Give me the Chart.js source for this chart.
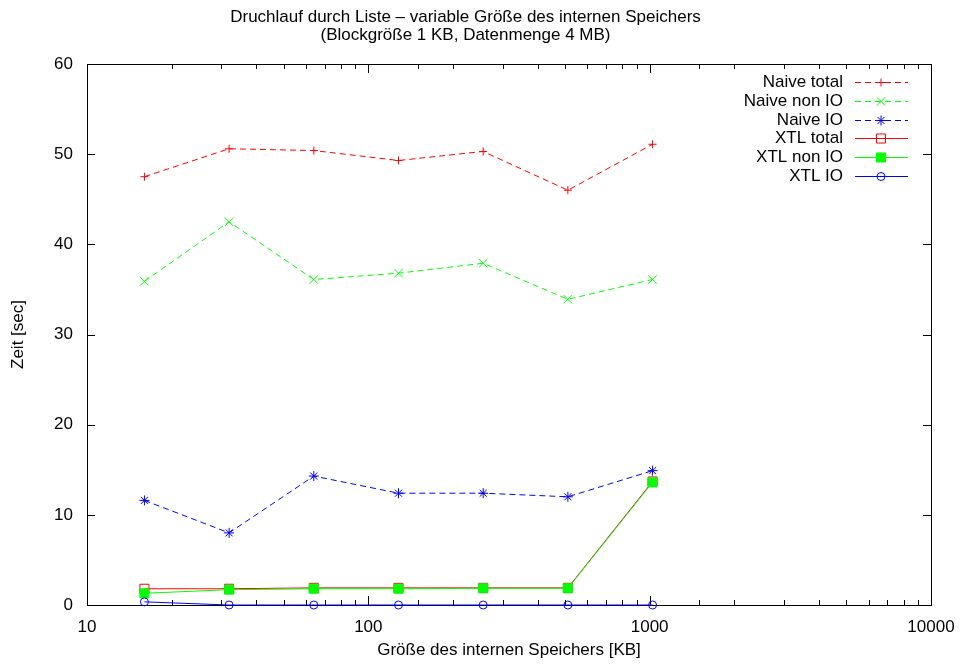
<!DOCTYPE html>
<html>
<head>
<meta charset="utf-8">
<script src="https://cdn.jsdelivr.net/npm/chart.js@4/dist/chart.umd.min.js"></script>
<style>
  html, body { margin: 0; padding: 0; background: #fff; }
</style>
</head>
<body>
<canvas id="chart" width="962" height="666"></canvas>
<script>
// Werte
const sizes = [16, 32, 64, 128, 256, 512, 1024];
const naiveTotal = [47.5, 50.6, 50.4, 49.3, 50.3, 46.0, 51.1];
const naiveNonIO = [35.9, 42.5, 36.1, 36.8, 37.9, 33.9, 36.1];
const naiveIO = [11.6, 8.0, 14.3, 12.4, 12.4, 12.0, 14.9];
const xtlTotal = [1.8, 1.8, 1.9, 1.9, 1.9, 1.9, 13.7];
const xtlNonIO = [1.3, 1.7, 1.8, 1.8, 1.85, 1.85, 13.6];
const xtlIO = [0.35, 0, 0, 0, 0, 0, 0];
const yTicks = [0, 10, 20, 30, 40, 50, 60];

const FONT = '"Liberation Sans", Arial, Helvetica, sans-serif';
Chart.defaults.font.family = FONT;
Chart.defaults.font.size = 17;
Chart.defaults.color = '#000';

const pts = vals => vals.map((v, i) => ({ x: sizes[i], y: v }));

const series = [
  { label: 'Naive total', data: naiveTotal, color: '#ff0000', dash: [6, 4], style: 'cross', r: 4, fill: false },
  { label: 'Naive non IO', data: naiveNonIO, color: '#00ff00', dash: [6, 4], style: 'crossRot', r: 6, fill: false },
  { label: 'Naive IO', data: naiveIO, color: '#0000ff', dash: [6, 4], style: 'star', r: 5, fill: false },
  { label: 'XTL total', data: xtlTotal, color: '#ff0000', dash: [], style: 'rect', r: 6.4, fill: false },
  { label: 'XTL non IO', data: xtlNonIO, color: '#00ff00', dash: [], style: 'rect', r: 6.4, fill: true },
  { label: 'XTL IO', data: xtlIO, color: '#0000ff', dash: [], style: 'circle', r: 4, fill: false }
];

// Rahmen und Teilstriche im gnuplot-Stil (nach innen)
const framePlugin = {
  id: 'frame',
  beforeDatasetsDraw(chart) {
    const { ctx, chartArea: a, scales } = chart;
    ctx.save();
    ctx.strokeStyle = '#000';
    ctx.lineWidth = 1;
    ctx.beginPath();
    scales.y.ticks.forEach(t => {
      const py = Math.round(scales.y.getPixelForValue(t.value)) + 0.5;
      ctx.moveTo(a.left, py); ctx.lineTo(a.left + 8, py);
      ctx.moveTo(a.right, py); ctx.lineTo(a.right - 8, py);
    });
    scales.x.ticks.forEach(t => {
      const px = Math.round(scales.x.getPixelForValue(t.value)) + 0.5;
      const len = t.major ? 9 : 5;
      ctx.moveTo(px, a.bottom); ctx.lineTo(px, a.bottom - len);
      ctx.moveTo(px, a.top); ctx.lineTo(px, a.top + len);
    });
    ctx.stroke();
    ctx.strokeRect(Math.round(a.left) + 0.5, Math.round(a.top) + 0.5,
      Math.round(a.right - a.left), Math.round(a.bottom - a.top));
    ctx.restore();
  }
};

// Legende oben rechts im Diagramm
const legendPlugin = {
  id: 'gpLegend',
  afterDatasetsDraw(chart) {
    const { ctx, chartArea: a } = chart;
    ctx.save();
    ctx.font = '17px ' + FONT;
    ctx.textAlign = 'right';
    ctx.textBaseline = 'middle';
    series.forEach((s, i) => {
      const y = Math.round(a.top + 18 + i * 18.8) + 0.5;
      ctx.fillStyle = '#000';
      ctx.fillText(s.label, a.right - 88, y);
      ctx.strokeStyle = s.color;
      ctx.lineWidth = 1;
      ctx.setLineDash(s.dash);
      ctx.beginPath();
      ctx.moveTo(a.right - 76, y);
      ctx.lineTo(a.right - 23, y);
      ctx.stroke();
      ctx.setLineDash([]);
      ctx.fillStyle = s.fill ? s.color : 'rgba(0,0,0,0)';
      Chart.helpers.drawPoint(ctx, { pointStyle: s.style, radius: s.r, borderWidth: 1, rotation: 0 },
        a.right - 50, y);
    });
    ctx.restore();
  }
};

new Chart(document.getElementById('chart'), {
  type: 'line',
  data: {
    datasets: series.map((s, i) => ({
      label: s.label,
      data: pts(s.data),
      borderColor: s.color,
      backgroundColor: s.color,
      borderWidth: 1,
      borderDash: s.dash,
      pointStyle: s.style,
      pointRadius: s.r,
      pointBorderWidth: 1,
      pointBorderColor: s.color,
      pointBackgroundColor: s.fill ? s.color : 'rgba(0,0,0,0)',
      tension: 0,
      fill: false,
      clip: false,
      order: 10 - i
    }))
  },
  plugins: [framePlugin, legendPlugin],
  options: {
    responsive: false,
    animation: false,
    devicePixelRatio: 1,
    layout: { padding: { left: 0, right: 31, top: 0, bottom: 0 } },
    plugins: {
      legend: { display: false },
      tooltip: { enabled: false },
      title: {
        display: true,
        text: ['Druchlauf durch Liste – variable Größe des internen Speichers',
               '(Blockgröße 1 KB, Datenmenge 4 MB)'],
        font: { size: 17, weight: 'normal', lineHeight: '18px' },
        color: '#000',
        padding: { top: 8, bottom: 20 }
      }
    },
    scales: {
      x: {
        type: 'logarithmic',
        min: 10,
        max: 10000,
        grid: { display: false, drawTicks: false },
        border: { display: false },
        ticks: {
          autoSkip: false,
          maxRotation: 0,
          padding: 12,
          callback: v => ([10, 100, 1000, 10000].includes(v) ? String(v) : '')
        },
        title: {
          display: true,
          text: 'Größe des internen Speichers [KB]',
          padding: { top: 0, bottom: 5 }
        },
        afterFit: s => { s.height = 61; s.paddingLeft = 0; s.paddingRight = 0; }
      },
      y: {
        min: 0,
        max: 60,
        grid: { display: false, drawTicks: false },
        border: { display: false },
        afterBuildTicks: s => { s.ticks = yTicks.map(v => ({ value: v })); },
        ticks: { padding: 14 },
        title: {
          display: true,
          text: 'Zeit [sec]',
          padding: { top: 8, bottom: 0 }
        },
        afterFit: s => { s.width = 87; }
      }
    }
  }
});
</script>
</body>
</html>
